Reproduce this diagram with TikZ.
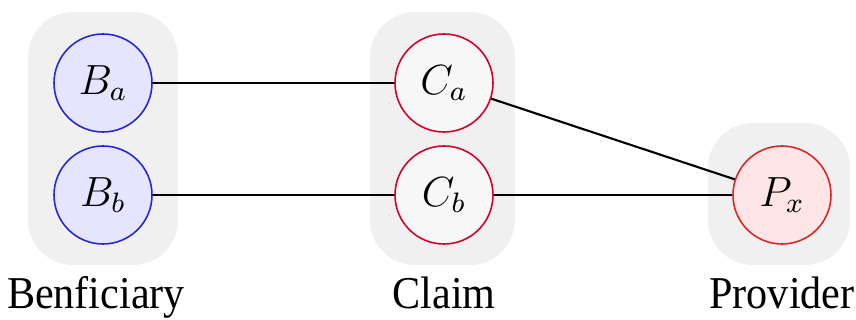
\documentclass[tikz,border=0pt]{standalone}
\usepackage{fontspec}
\setmainfont{Liberation Serif}
\usepackage{tikz}
\usepackage{xcolor}

\tikzset{
  grp/.style={fill=gray!12, rounded corners=0.45cm},
  party/.style={circle, minimum size=0.98cm, inner sep=0pt, line width=0.45pt, font=\large},
  bnode/.style={party, draw=blue!70!gray, fill=blue!10},
  cnode/.style={party, draw=purple!70!red, fill=gray!6},
  pnode/.style={party, draw=red!70!gray, fill=red!10},
  lbl/.style={font=\large, anchor=base, yscale=1.08},
  link/.style={black, line width=0.6pt}
}

\begin{document}
\begin{tikzpicture}

\useasboundingbox (0,0) rectangle (8.56,3.2);

% Group backgrounds
\fill[grp] (0.28,0.55) rectangle (1.78,3.08);
\fill[grp] (3.70,0.55) rectangle (5.15,3.08);
\fill[grp] (7.08,0.55) rectangle (8.50,1.97);

% Nodes
\node[bnode] (ba) at (1.03,2.37) {$B_a$};
\node[bnode] (bb) at (1.03,1.25) {$B_b$};
\node[cnode] (ca) at (4.44,2.37) {$C_a$};
\node[cnode] (cb) at (4.44,1.25) {$C_b$};
\node[pnode] (px) at (7.82,1.25) {$P_x$};

% Links
\draw[link] (ba) -- (ca);
\draw[link] (bb) -- (cb);
\draw[link] (ca) -- (px);
\draw[link] (cb) -- (px);

% Labels
\node[lbl] (lben) at (0.96,0.12) {Benficiary};
\node[lbl] (lcla) at (4.44,0.12) {Claim};
\node[lbl] (lpro) at (7.82,0.12) {Provider};

\end{tikzpicture}
\end{document}
